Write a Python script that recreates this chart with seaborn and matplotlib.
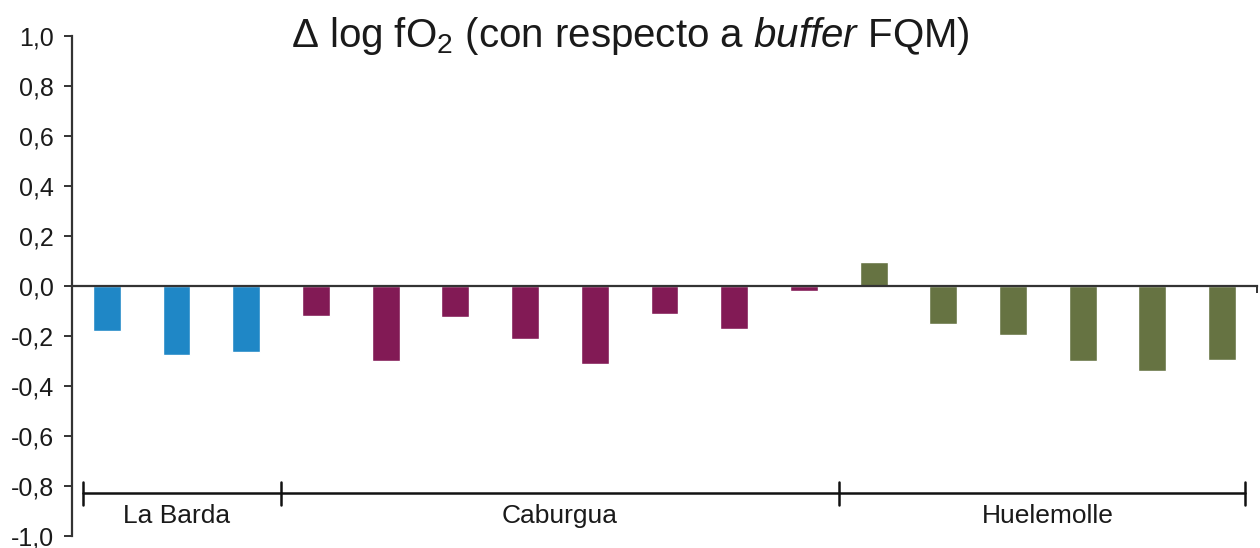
import numpy as np
import pandas as pd
import matplotlib
matplotlib.use("Agg")
import matplotlib.pyplot as plt
import seaborn as sns

# Δ log fO2 relative to the FQM buffer, per sample, grouped by locality
grupos = ["La Barda", "Caburgua", "Huelemolle"]
la_barda = [-0.18, -0.275, -0.265]
caburgua = [-0.12, -0.30, -0.125, -0.21, -0.31, -0.11, -0.17, -0.02]
huelemolle = [0.095, -0.15, -0.195, -0.30, -0.34, -0.295]
colores = ["#1F87C6", "#821A55", "#667342"]
yticks = [-1.0, -0.8, -0.6, -0.4, -0.2, 0.0, 0.2, 0.4, 0.6, 0.8, 1.0]
ytick_labels = ["-1,0", "-0,8", "-0,6", "-0,4", "-0,2", "0,0",
                "0,2", "0,4", "0,6", "0,8", "1,0"]

series = [la_barda, caburgua, huelemolle]
rows = []
for g, vals in zip(grupos, series):
    for v in vals:
        rows.append({"grupo": g, "valor": v})
df = pd.DataFrame(rows)
df["muestra"] = [str(i) for i in range(len(df))]

sns.set_style("white")
plt.rcParams["font.family"] = ["Liberation Sans", "DejaVu Sans"]
plt.rcParams["mathtext.fontset"] = "custom"
plt.rcParams["mathtext.rm"] = "Liberation Sans"
plt.rcParams["mathtext.it"] = "Liberation Sans:italic"

txt = "#1a1a1a"
fig = plt.figure(figsize=(12.6, 5.48), dpi=100)
ax = fig.add_axes([0.0571, 0.0219, 0.9405, 0.9124])

sns.barplot(data=df, x="muestra", y="valor", hue="grupo",
            hue_order=grupos, palette=colores, order=list(df["muestra"]),
            width=0.4, dodge=False, saturation=1, legend=False, ax=ax)

ax.set_xlim(-0.5, len(df) - 0.5)
ax.set_ylim(-1, 1)
ax.set_xlabel("")
ax.set_ylabel("")

for s in ["top", "right"]:
    ax.spines[s].set_visible(False)
ax.spines["bottom"].set_position(("data", 0))
for s in ["left", "bottom"]:
    ax.spines[s].set_color("#333333")
    ax.spines[s].set_linewidth(1.6)
    ax.spines[s].set_zorder(5)

ax.set_yticks(yticks)
ax.set_yticklabels(ytick_labels)
ax.set_xticks([len(df) - 0.5])
ax.set_xticklabels([""])
ax.tick_params(axis="y", direction="out", length=6, width=1.4,
               color="#333333", labelsize=18, labelcolor=txt, pad=7, left=True)
ax.tick_params(axis="x", direction="out", length=5, width=1.4,
               color="#333333", bottom=True)

# locality bracket under the bars
n1, n2 = len(la_barda), len(caburgua)
y_br = -0.83
edges = [-0.34, n1 - 0.5, n1 + n2 - 0.5, len(df) - 1 + 0.33]
ax.plot([edges[0], edges[-1]], [y_br, y_br], color="#111111", lw=1.8,
        clip_on=False, zorder=4)
for e in edges:
    ax.plot([e, e], [y_br + 0.045, y_br - 0.048], color="#111111", lw=1.8,
            clip_on=False, zorder=4)

centros = [(n1 - 1) / 2, n1 + (n2 - 1) / 2, n1 + n2 + (len(huelemolle) - 1) / 2]
for g, c in zip(grupos, centros):
    ax.text(c, -0.92, g, ha="center", va="center", fontsize=19, color=txt)

fig.text(0.5, 0.935, "Δ log fO$_2$ (con respecto a $\\mathit{buffer}$ FQM)",
         ha="center", va="center", fontsize=29, color=txt)

fig.savefig("out.png", dpi=100)
